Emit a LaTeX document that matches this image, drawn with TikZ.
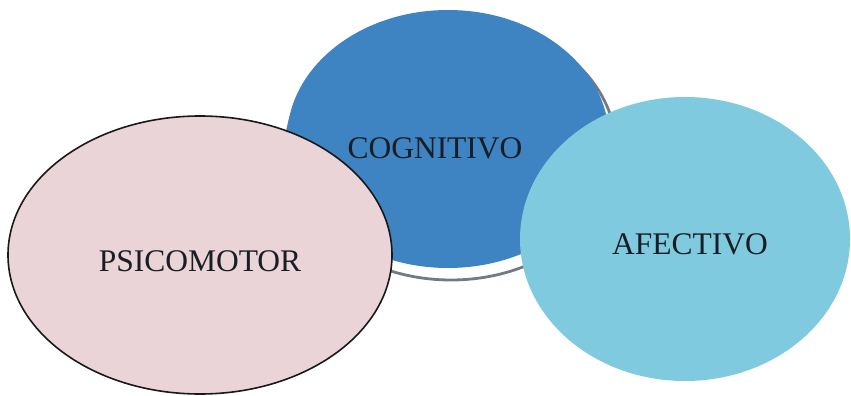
\documentclass[tikz,border=0pt]{standalone}
\usepackage{fontspec}
\setmainfont{Liberation Serif}
\usetikzlibrary{shapes.geometric}
\definecolor{pinkfill}{RGB}{234,212,215}
\definecolor{cogblue}{RGB}{62,131,194}
\definecolor{afeblue}{RGB}{128,202,224}
\definecolor{shadowgray}{RGB}{115,122,132}
\definecolor{txt}{RGB}{24,30,36}
\tikzset{
  blob/.style={ellipse, inner sep=0pt, draw=none},
  lbl/.style={anchor=base, inner sep=0pt, text=txt, font=\fontsize{31.5}{34}\selectfont}
}
\begin{document}
\begin{tikzpicture}[x=1pt,y=-1pt]
\useasboundingbox (0,0) rectangle (851,396);
% shadow of the middle ellipse
\node[blob, draw=shadowgray, line width=2.8pt, minimum width=330pt, minimum height=262pt] (shadow) at (451,149) {};
% middle ellipse
\node[blob, fill=cogblue, minimum width=322pt, minimum height=258pt] (cog) at (448,139) {};
% right ellipse
\node[blob, fill=afeblue, minimum width=330pt, minimum height=284pt] (afe) at (685,239) {};
% left ellipse
\node[blob, fill=pinkfill, draw=black!90, line width=1.6pt, minimum width=384pt, minimum height=278pt] (psi) at (200,255) {};
% labels
\node[lbl] (tcog) at (435,158) {COGNITIVO};
\node[lbl] (tafe) at (690,254) {AFECTIVO};
\node[lbl] (tpsi) at (200,271) {PSICOMOTOR};
\end{tikzpicture}
\end{document}
